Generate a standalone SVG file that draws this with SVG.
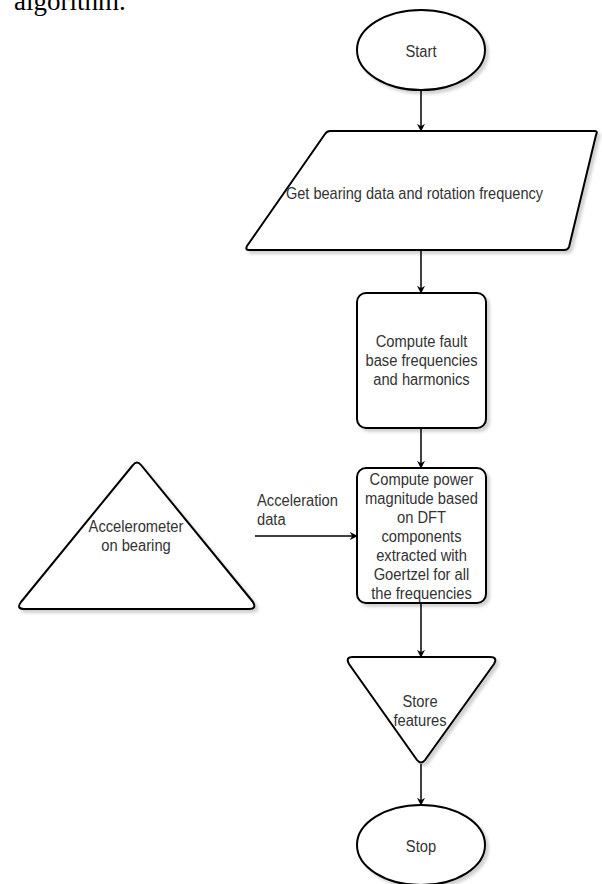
<svg xmlns="http://www.w3.org/2000/svg" width="602" height="884" viewBox="0 0 602 884">
<style>
.shape{fill:#ffffff;stroke:#000000;stroke-width:2;stroke-linejoin:round;filter:url(#sh)}
.t{font-family:"Liberation Sans",Arial,sans-serif;font-size:16px;fill:#333333;text-anchor:middle}
.tl{font-family:"Liberation Sans",Arial,sans-serif;font-size:16px;fill:#333333}
.edge{stroke:#000000;stroke-width:1.5;fill:none;marker-end:url(#arr)}
</style>
<defs>
<filter id="sh" x="-10%" y="-10%" width="130%" height="130%">
<feDropShadow dx="3" dy="3" stdDeviation="1.5" flood-color="#000000" flood-opacity="0.18"/>
</filter>
<marker id="arr" viewBox="0 0 10 10" refX="9" refY="5" markerWidth="8" markerHeight="8" markerUnits="userSpaceOnUse" orient="auto">
<path d="M0,0 L10,5 L0,10 L3,5 Z" fill="#000000"/>
</marker>
</defs>
<rect width="602" height="884" fill="#ffffff"/>
<text x="14" y="10" font-family="'Liberation Serif','Times New Roman',serif" font-size="27" fill="#000000">algorithm.</text>
<g id="connectors">
<line class="edge" x1="421" y1="90" x2="421" y2="131"/>
<line class="edge" x1="421" y1="250" x2="421" y2="293"/>
<line class="edge" x1="421" y1="428" x2="421" y2="468"/>
<line class="edge" x1="255" y1="536" x2="357" y2="536"/>
<line class="edge" x1="421" y1="603" x2="421" y2="657"/>
<line class="edge" x1="421" y1="764" x2="421" y2="805"/>
</g>
<g id="start">
<ellipse class="shape" cx="421" cy="50" rx="64" ry="40"/>
<g transform="translate(421 0) scale(0.92 1)"><text class="t" x="0" y="57">Start</text></g>
</g>
<g id="get-data">
<path class="shape" d="M330,131 L595,131 Q598,131 596,135 L569,247 Q568,250 564,250 L249,250 Q245,250 247,246 L325,134 Q327,131 330,131 Z"/>
<g transform="translate(414.5 0) scale(0.91 1)"><text class="t" x="0" y="199.5">Get bearing data and rotation frequency</text></g>
</g>
<g id="compute-fault">
<rect class="shape" x="357" y="293" width="129" height="135" rx="9" ry="9"/>
<g transform="translate(421.5 0) scale(0.92 1)">
<text class="t" x="0" y="347.5">Compute fault</text>
<text class="t" x="0" y="366.5">base frequencies</text>
<text class="t" x="0" y="385.5">and harmonics</text>
</g>
</g>
<g id="compute-power">
<rect class="shape" x="357" y="468" width="129" height="135" rx="9" ry="9"/>
<g transform="translate(421.5 0) scale(0.92 1)">
<text class="t" x="0" y="485.5">Compute power</text>
<text class="t" x="0" y="504.5">magnitude based</text>
<text class="t" x="0" y="523.5">on DFT</text>
<text class="t" x="0" y="542.5">components</text>
<text class="t" x="0" y="561.5">extracted with</text>
<text class="t" x="0" y="580">Goertzel for all</text>
<text class="t" x="0" y="599">the frequencies</text>
</g>
</g>
<g id="accelerometer">
<path class="shape" d="M133,465 Q137,460 141,465 L253,602 Q257,609 249,609 L24,609 Q16,609 21,602 Z"/>
<g transform="translate(136 0) scale(0.92 1)">
<text class="t" x="0" y="532.5">Accelerometer</text>
<text class="t" x="0" y="551.5">on bearing</text>
</g>
</g>
<g id="edge-label" transform="translate(257 0) scale(0.92 1)">
<text class="tl" x="0" y="506.5">Acceleration</text>
<text class="tl" x="0" y="525.5">data</text>
</g>
<g id="store">
<path class="shape" d="M353,657 L490,657 Q498,657 494,664 L425,760 Q421,765 417,760 L349,664 Q345,657 353,657 Z"/>
<g transform="translate(420 0) scale(0.92 1)">
<text class="t" x="0" y="707.5">Store</text>
<text class="t" x="0" y="726.5">features</text>
</g>
</g>
<g id="stop">
<ellipse class="shape" cx="421" cy="845" rx="64" ry="40"/>
<g transform="translate(421 0) scale(0.92 1)"><text class="t" x="0" y="852.5">Stop</text></g>
</g>
</svg>
